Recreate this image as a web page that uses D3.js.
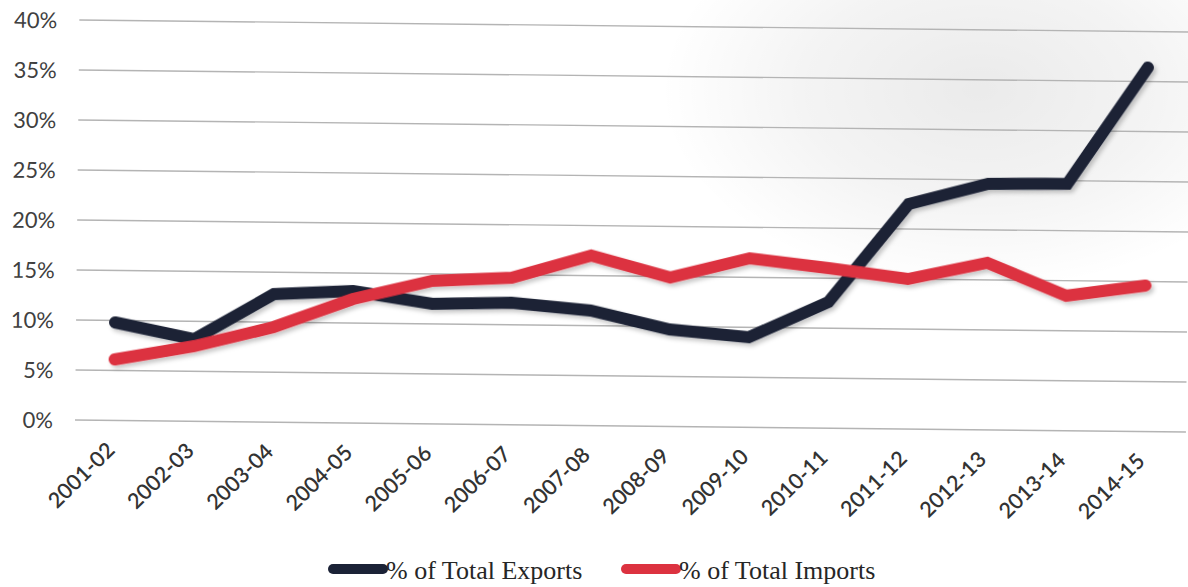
<!DOCTYPE html>
<html>
<head>
<meta charset="utf-8">
<script src="https://cdn.jsdelivr.net/npm/d3@7"></script>
<style>
  html, body { margin: 0; padding: 0; background: #ffffff; }
  svg { display: block; }
</style>
</head>
<body>
<svg id="chart" width="1188" height="587"></svg>
<script>
// Fiscal years along the x axis
const categories = ["2001-02", "2002-03", "2003-04", "2004-05", "2005-06", "2006-07", "2007-08",
                    "2008-09", "2009-10", "2010-11", "2011-12", "2012-13", "2013-14", "2014-15"];
// Share of total exports (%)
const exportsShare = [9.8, 8.2, 12.8, 13.2, 12.0, 12.2, 11.5, 9.7, 9.0, 12.6, 22.5, 24.6, 24.7, 36.4];
// Share of total imports (%)
const importsShare = [6.1, 7.5, 9.5, 12.4, 14.3, 14.7, 17.0, 14.9, 16.9, 16.0, 15.0, 16.7, 13.5, 14.6];
// Y axis ticks (%)
const yTicks = [0, 5, 10, 15, 20, 25, 30, 35, 40];
// Legend entries
const seriesNames = ["% of Total Exports", "% of Total Imports"];

const W = 1188, H = 587;
const navy = "#1b2236", red = "#dc3240";

const svg = d3.select("#chart");
const defs = svg.append("defs");

// soft grey haze in the upper right of the page
const haze = defs.append("radialGradient").attr("id", "haze")
  .attr("cx", 0.5).attr("cy", 0.5).attr("r", 0.5);
haze.append("stop").attr("offset", "0%").attr("stop-color", "#000").attr("stop-opacity", 0.08);
haze.append("stop").attr("offset", "55%").attr("stop-color", "#000").attr("stop-opacity", 0.045);
haze.append("stop").attr("offset", "100%").attr("stop-color", "#000").attr("stop-opacity", 0);

const shadow = defs.append("filter").attr("id", "shadow")
  .attr("x", "-5%").attr("y", "-10%").attr("width", "110%").attr("height", "130%");
shadow.append("feDropShadow").attr("dx", 2.5).attr("dy", 3).attr("stdDeviation", 2)
  .attr("flood-color", "#000").attr("flood-opacity", 0.22);

svg.append("rect").attr("width", W).attr("height", H).attr("fill", "#fff");
svg.append("ellipse").attr("cx", 980).attr("cy", 90).attr("rx", 320).attr("ry", 200)
  .attr("fill", "url(#haze)");

// whole chart sits slightly tilted
const g = svg.append("g").attr("transform", "rotate(0.62, 75, 420)");

const x = d3.scalePoint().domain(categories).range([114, 1144]);
const y = d3.scaleLinear().domain([0, 40]).range([420, 20]);

// horizontal gridlines
g.append("g").selectAll("line").data(yTicks).join("line")
  .attr("x1", 75).attr("x2", 1186)
  .attr("y1", d => y(d)).attr("y2", d => y(d))
  .attr("stroke", "#b4b4b4").attr("stroke-width", 1.4);

// y axis labels
const yAxis = g.append("g").attr("transform", "translate(53,0)")
  .call(d3.axisLeft(y).tickValues(yTicks).tickFormat(d => d + "%").tickSize(0).tickPadding(0));
yAxis.select(".domain").remove();
yAxis.selectAll("text")
  .attr("font-family", "Lato, sans-serif").attr("font-size", 22)
  .attr("fill", "#404040").attr("dy", "0.36em");

// x axis labels, rotated
const xAxis = g.append("g").attr("transform", "translate(0,420)")
  .call(d3.axisBottom(x).tickSize(0).tickPadding(0));
xAxis.select(".domain").remove();
xAxis.selectAll("text")
  .attr("font-family", "Lato, sans-serif").attr("font-size", 21.5)
  .attr("font-weight", 600)
  .attr("fill", "#333")
  .attr("text-anchor", "end")
  .attr("dy", null)
  .attr("transform", "translate(2,31) rotate(-45)");

// series lines
const line = d3.line().x((d, i) => x(categories[i])).y(d => y(d));
const series = [
  { values: exportsShare, color: navy },
  { values: importsShare, color: red }
];
g.append("g").attr("filter", "url(#shadow)").selectAll("path").data(series).join("path")
  .attr("d", d => line(d.values))
  .attr("fill", "none")
  .attr("stroke", d => d.color)
  .attr("stroke-width", 12)
  .attr("stroke-linecap", "round")
  .attr("stroke-linejoin", "miter");

// legend
const legend = svg.append("g");
const legendItems = [
  { name: seriesNames[0], color: navy, x0: 333 },
  { name: seriesNames[1], color: red, x0: 626 }
];
legendItems.forEach(it => {
  legend.append("line")
    .attr("x1", it.x0).attr("x2", it.x0 + 50)
    .attr("y1", 569).attr("y2", 569)
    .attr("stroke", it.color).attr("stroke-width", 10).attr("stroke-linecap", "round");
  legend.append("text")
    .attr("x", it.x0 + 53).attr("y", 579)
    .attr("font-family", "'Liberation Serif', serif").attr("font-size", 26)
    .attr("fill", "#262626").text(it.name);
});
</script>
</body>
</html>
